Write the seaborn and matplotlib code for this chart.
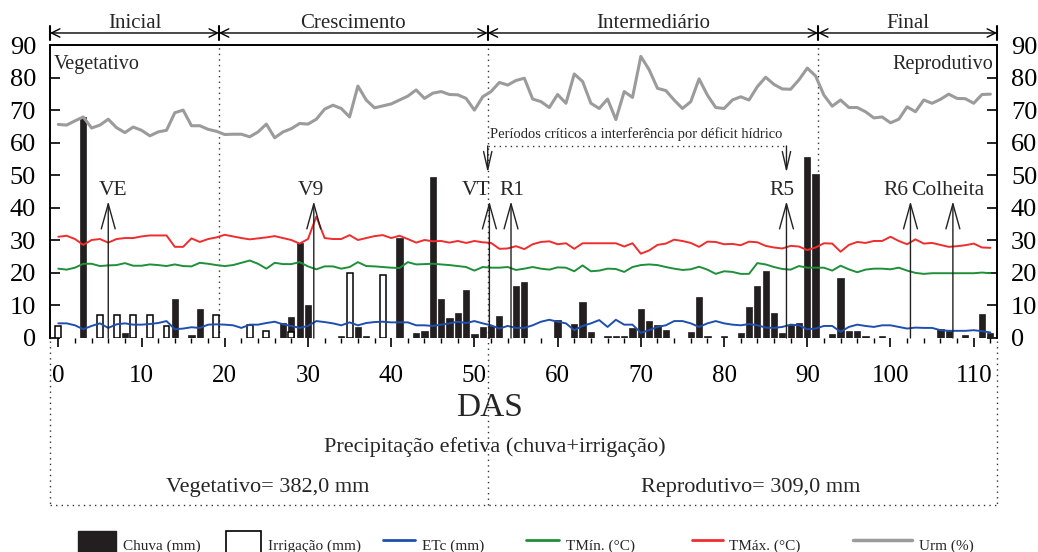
import matplotlib
matplotlib.use("Agg")
import matplotlib.pyplot as plt
import matplotlib.transforms as mtransforms
from matplotlib.lines import Line2D
from matplotlib.patches import Patch
import seaborn as sns

# ---------------- data ----------------
days = list(range(0, 113))

chuva_days = [3, 8, 14, 16, 17, 27, 28, 29, 30, 34, 36, 37, 41, 43, 44, 45, 46, 47, 48, 49,
              50, 51, 52, 53, 55, 56, 60, 62, 63, 64, 66, 67, 68, 69, 70, 71, 72, 73, 76, 77,
              78, 80, 82, 83, 84, 85, 86, 87, 88, 89, 90, 91, 93, 94, 95, 96, 97, 99, 106, 107,
              109, 111, 112]
chuva_mm = [68.0, 1.5, 12.0, 1.0, 8.9, 4.6, 6.3, 29.3, 10.2, 0.5, 3.5, 0.5, 30.7, 1.6, 2.3, 49.5, 12.0, 6.2, 7.7, 14.6,
            1.2, 3.3, 3.6, 6.9, 15.9, 17.1, 5.6, 4.4, 11.0, 1.8, 0.5, 0.5, 0.5, 3.1, 8.9, 5.2, 4.1, 2.6, 1.8, 12.7,
            0.5, 0.5, 1.6, 9.4, 15.9, 20.7, 7.7, 1.6, 3.9, 4.7, 55.7, 50.5, 1.2, 18.4, 2.3, 2.1, 0.5, 0.5, 2.8, 2.3,
            1.0, 7.4, 1.6]

irrig_days = [0, 5, 7, 9, 11, 13, 19, 23, 25, 28, 35, 39]
irrig_mm = [3.6, 7.0, 7.0, 7.0, 7.0, 3.6, 7.0, 4.1, 2.3, 1.7, 20.0, 19.4]

urm = [65.6, 65.4, 66.7, 67.9, 64.5, 65.4, 67.2, 64.6, 63.1, 64.8, 63.8, 62.1, 63.3, 63.8, 69.2, 70.0,
       65.2, 65.2, 64.1, 63.5, 62.5, 62.6, 62.6, 61.8, 63.3, 65.7, 61.5, 63.3, 64.3, 65.9, 65.7, 67.2,
       70.3, 71.5, 70.5, 67.9, 77.4, 73.1, 70.7, 71.3, 71.9, 73.1, 74.3, 76.2, 73.6, 75.2, 75.7, 74.8,
       74.7, 73.6, 70.0, 74.1, 75.7, 78.5, 77.7, 79.1, 79.8, 73.4, 72.6, 70.8, 74.8, 72.1, 81.1, 78.8,
       72.1, 70.5, 73.4, 67.1, 75.7, 73.9, 86.5, 82.4, 76.7, 76.0, 73.1, 70.5, 72.6, 79.6, 74.6, 70.8,
       70.5, 73.1, 74.1, 73.1, 77.2, 80.1, 77.9, 76.5, 76.4, 79.3, 82.9, 80.5, 74.6, 71.2, 73.1, 70.8,
       70.8, 69.5, 67.6, 67.9, 66.1, 67.2, 71.0, 69.5, 73.1, 72.1, 73.3, 74.9, 73.6, 73.5, 72.1, 74.8,
       74.9]

tmax = [31.1, 31.4, 30.4, 28.6, 30.1, 30.4, 29.3, 30.4, 30.7, 30.7, 31.2, 31.5, 31.5, 31.5, 28.0, 28.0,
        30.6, 29.5, 30.4, 30.9, 31.7, 31.2, 30.7, 30.3, 30.6, 30.9, 31.3, 30.7, 30.1, 29.0, 30.4, 37.3,
        30.7, 30.4, 30.4, 31.6, 30.1, 30.7, 31.3, 31.6, 30.7, 31.4, 30.4, 29.3, 30.1, 29.7, 29.8, 29.3,
        29.8, 29.2, 29.8, 29.4, 29.2, 27.4, 27.5, 28.2, 27.3, 28.8, 29.5, 29.7, 28.8, 29.1, 27.4, 29.1,
        29.1, 29.1, 29.1, 29.1, 28.1, 29.1, 25.9, 26.9, 28.6, 29.0, 30.2, 29.8, 29.2, 28.0, 29.6, 29.5,
        28.8, 28.9, 28.5, 29.6, 29.4, 28.3, 27.8, 27.5, 28.3, 28.1, 27.0, 27.8, 29.1, 29.0, 26.5, 28.6,
        29.5, 29.2, 29.8, 29.8, 31.1, 29.8, 28.8, 30.3, 29.0, 29.2, 28.6, 28.0, 28.2, 28.5, 29.0, 27.8,
        27.7]

tmin = [21.3, 21.0, 21.6, 22.8, 22.8, 22.1, 22.3, 22.4, 23.0, 22.2, 22.2, 22.6, 22.4, 22.1, 22.6, 22.1,
        22.0, 23.1, 22.8, 22.4, 22.1, 22.4, 23.1, 23.8, 22.8, 21.3, 23.1, 22.7, 22.7, 23.3, 22.0, 21.1,
        22.0, 22.0, 21.3, 21.8, 23.3, 22.1, 22.0, 21.8, 21.6, 21.5, 23.3, 22.6, 22.7, 22.8, 22.6, 22.4,
        22.1, 21.8, 20.7, 21.8, 21.6, 21.6, 21.8, 20.9, 21.3, 21.8, 21.3, 21.0, 21.7, 21.6, 20.5, 22.3,
        20.5, 20.7, 21.3, 21.2, 20.3, 21.8, 22.4, 22.6, 22.4, 21.8, 21.3, 20.9, 21.1, 21.9, 21.0, 19.7,
        20.5, 20.3, 19.7, 19.7, 23.0, 22.6, 21.8, 21.2, 21.0, 22.1, 21.6, 21.6, 21.6, 20.7, 22.2, 21.1,
        20.2, 21.0, 21.3, 21.3, 21.1, 21.6, 20.7, 20.0, 19.7, 19.9, 19.9, 19.9, 19.9, 19.9, 19.9, 20.1,
        19.9]

etc = [4.5, 4.5, 3.9, 2.7, 3.7, 4.5, 3.1, 4.2, 4.5, 4.1, 4.1, 4.3, 4.6, 5.2, 2.7, 2.9,
       3.3, 3.1, 4.1, 4.2, 4.1, 3.9, 3.1, 4.1, 4.1, 4.6, 5.0, 4.2, 3.7, 3.1, 3.7, 5.2,
       4.9, 4.5, 3.9, 4.8, 3.9, 4.6, 4.9, 5.0, 4.8, 4.8, 4.8, 3.9, 3.9, 3.7, 4.1, 4.5,
       5.0, 4.6, 5.2, 4.5, 3.9, 2.9, 3.7, 3.1, 3.1, 3.9, 5.0, 5.6, 5.0, 4.5, 2.4, 3.7,
       4.5, 5.5, 3.4, 5.6, 4.1, 4.1, 1.6, 2.4, 3.4, 3.9, 5.2, 5.2, 4.5, 3.4, 4.5, 5.2,
       4.5, 4.1, 3.9, 4.3, 3.9, 3.2, 3.1, 3.4, 4.1, 3.9, 2.7, 2.9, 3.7, 3.7, 1.9, 3.4,
       4.1, 3.7, 3.4, 3.9, 3.9, 3.4, 2.9, 3.2, 3.1, 3.1, 2.4, 2.2, 2.2, 2.2, 2.4, 2.1,
       1.7]

x_ticks = list(range(0, 111, 10))
y_ticks = list(range(0, 91, 10))

phases = ["Inicial", "Crescimento", "Intermediário", "Final"]
phase_bounds = [-1.0, 19.3, 51.6, 91.3, 112.8]

stages = ["VE", "V9", "VT", "R1", "R5", "R6", "Colheita"]
stage_days = [6.0, 30.7, 51.8, 54.4, 87.5, 102.4, 107.5]
stage_label_x = [6.6, 30.3, 50.2, 54.5, 87.0, 100.7, 106.9]

legend_labels = ["Chuva (mm)", "Irrigação (mm)", "ETc (mm)", "TMín. (°C)", "TMáx. (°C)", "Urm (%)"]

# ---------------- style ----------------
sns.set_theme(style="ticks")
plt.rcParams["font.family"] = ["Liberation Serif", "DejaVu Serif"]
plt.rcParams["axes.linewidth"] = 1.4

C_BAR = "#231f20"
C_RED = "#ef2d2d"
C_GREEN = "#1f8f3a"
C_BLUE = "#1f4fae"
C_GRAY = "#9b9b9b"

fig = plt.figure(figsize=(10.38, 5.52), dpi=100)
ax = fig.add_axes([50 / 1038, 1 - 338 / 552, 947 / 1038, 293 / 552])

# bars
ax.bar(chuva_days, chuva_mm, width=0.75, color=C_BAR, edgecolor=C_BAR, linewidth=0.5, zorder=2)
ax.bar(irrig_days, irrig_mm, width=0.72, color="white", edgecolor="black", linewidth=1.1, zorder=2.5)

# lines
sns.lineplot(x=days, y=urm, ax=ax, color=C_GRAY, linewidth=2.2, zorder=3)
sns.lineplot(x=days, y=tmax, ax=ax, color=C_RED, linewidth=1.4, zorder=3)
sns.lineplot(x=days, y=tmin, ax=ax, color=C_GREEN, linewidth=1.4, zorder=3)
sns.lineplot(x=days, y=etc, ax=ax, color=C_BLUE, linewidth=1.4, zorder=3)

ax.set_xlim(phase_bounds[0], phase_bounds[-1])
ax.set_ylim(0, 90)
ax.set_xlabel("")
ax.set_ylabel("")

ax.set_yticks(y_ticks)
ax.set_xticks(x_ticks)
ax.set_xticks(list(range(0, 113, 2)), minor=True)
ax.tick_params(axis="y", which="both", direction="in", left=True, right=True,
               labelleft=True, labelright=True, length=7, width=1.2, labelsize=19, pad=10,
               colors="black")
ax.tick_params(axis="x", which="major", direction="out", length=6.5, width=1.2,
               labelsize=18, pad=13, colors="black")
ax.tick_params(axis="x", which="minor", direction="out", length=3.5, width=1.0, colors="black")
ax.spines["bottom"].set_visible(False)
for s in ["left", "right", "top"]:
    ax.spines[s].set_visible(True)
    ax.spines[s].set_color("black")

blend = mtransforms.blended_transform_factory(ax.transData, ax.transAxes)
dot = (0, (1, 3))

# phase dotted vertical lines
ax.add_line(Line2D([phase_bounds[1]] * 2, [0, 1], transform=blend, color="#333333",
                   lw=1.0, ls=dot, zorder=1))
ax.add_line(Line2D([phase_bounds[2]] * 2, [-0.57, 1], transform=blend, color="#333333",
                   lw=1.0, ls=dot, zorder=1, clip_on=False))
ax.add_line(Line2D([phase_bounds[3]] * 2, [0, 1], transform=blend, color="#333333",
                   lw=1.0, ls=dot, zorder=1))

# lower dotted box
for xs, ys in [([phase_bounds[0]] * 2, [-0.01, -0.57]),
               ([phase_bounds[-1]] * 2, [-0.01, -0.57]),
               ([phase_bounds[0], phase_bounds[-1]], [-0.57, -0.57])]:
    ax.add_line(Line2D(xs, ys, transform=blend, color="#333333", lw=1.0, ls=dot, clip_on=False))

# phase brackets above axes
yb = 1.041
for i, name in enumerate(phases):
    b0, b1 = phase_bounds[i], phase_bounds[i + 1]
    ax.annotate("", xy=(b0, yb), xytext=(b1, yb), xycoords=blend, textcoords=blend,
                arrowprops=dict(arrowstyle="<->,head_length=0.6,head_width=0.3", lw=1.0,
                                color="black", shrinkA=0, shrinkB=0, mutation_scale=10),
                annotation_clip=False)
    ax.text((b0 + b1) / 2, 1.075, name, transform=blend, ha="center", va="center",
            fontsize=15)
for b in phase_bounds:
    ax.add_line(Line2D([b, b], [1.018, 1.064], transform=blend, color="black", lw=1.5,
                       clip_on=False))

# corner labels
ax.text(0.004, 0.932, "Vegetativo", transform=ax.transAxes, ha="left", va="center", fontsize=14.5)
ax.text(0.996, 0.932, "Reprodutivo", transform=ax.transAxes, ha="right", va="center", fontsize=14.5)

# stage arrows
for name, d, lx in zip(stages, stage_days, stage_label_x):
    ax.annotate("", xy=(d, 42.0), xytext=(d, 0), xycoords="data",
                arrowprops=dict(arrowstyle="->,head_length=1.8,head_width=0.5", lw=1.0,
                                color="#222222", shrinkA=0, shrinkB=0, mutation_scale=10),
                zorder=4)
    ax.text(lx, 45.3, name, ha="center", va="center", fontsize=15.5, zorder=5)

# critical period
ax.text(69.5, 62.7, "Períodos críticos a interferência por déficit hídrico",
        ha="center", va="center", fontsize=10.5)
ax.add_line(Line2D([51.6, 87.6], [59.0, 59.0], color="#333333", lw=1.0, ls=dot))
for d in [51.6, 87.5]:
    ax.annotate("", xy=(d, 50.8), xytext=(d, 59.0), xycoords="data",
                arrowprops=dict(arrowstyle="->,head_length=1.3,head_width=0.3", lw=1.0,
                                color="#222222", shrinkA=0, shrinkB=0, mutation_scale=10))

# lower texts
ax.text(51.8, -0.238, "DAS", transform=blend, ha="center", va="center", fontsize=24)
ax.text(52.4, -0.372, "Precipitação efetiva (chuva+irrigação)", transform=blend,
        ha="center", va="center", fontsize=16)
ax.text(25.1, -0.509, "Vegetativo= 382,0 mm", transform=blend, ha="center", va="center",
        fontsize=16)
ax.text(83.2, -0.509, "Reprodutivo= 309,0 mm", transform=blend, ha="center", va="center",
        fontsize=16)

# legend (one entry each, placed along the bottom)
handles = [Patch(facecolor=C_BAR, edgecolor=C_BAR),
           Patch(facecolor="white", edgecolor="black", linewidth=1.2),
           Line2D([], [], color=C_BLUE, lw=2),
           Line2D([], [], color=C_GREEN, lw=2),
           Line2D([], [], color=C_RED, lw=2),
           Line2D([], [], color=C_GRAY, lw=2.5)]
x_px = [78, 226, 383, 526, 692, 853]
hlen = [2.5, 2.3, 2.1, 2.15, 2.0, 3.85]
for h, lab, xp, hl in zip(handles, legend_labels, x_px, hlen):
    fig.legend(handles=[h], labels=[lab], loc="center left",
               bbox_to_anchor=(xp / 1038, 1 - 545 / 552), frameon=False,
               fontsize=11, handlelength=hl, handleheight=2.4, handletextpad=0.45,
               borderpad=0, borderaxespad=0)

fig.savefig("out.png", dpi=100)
